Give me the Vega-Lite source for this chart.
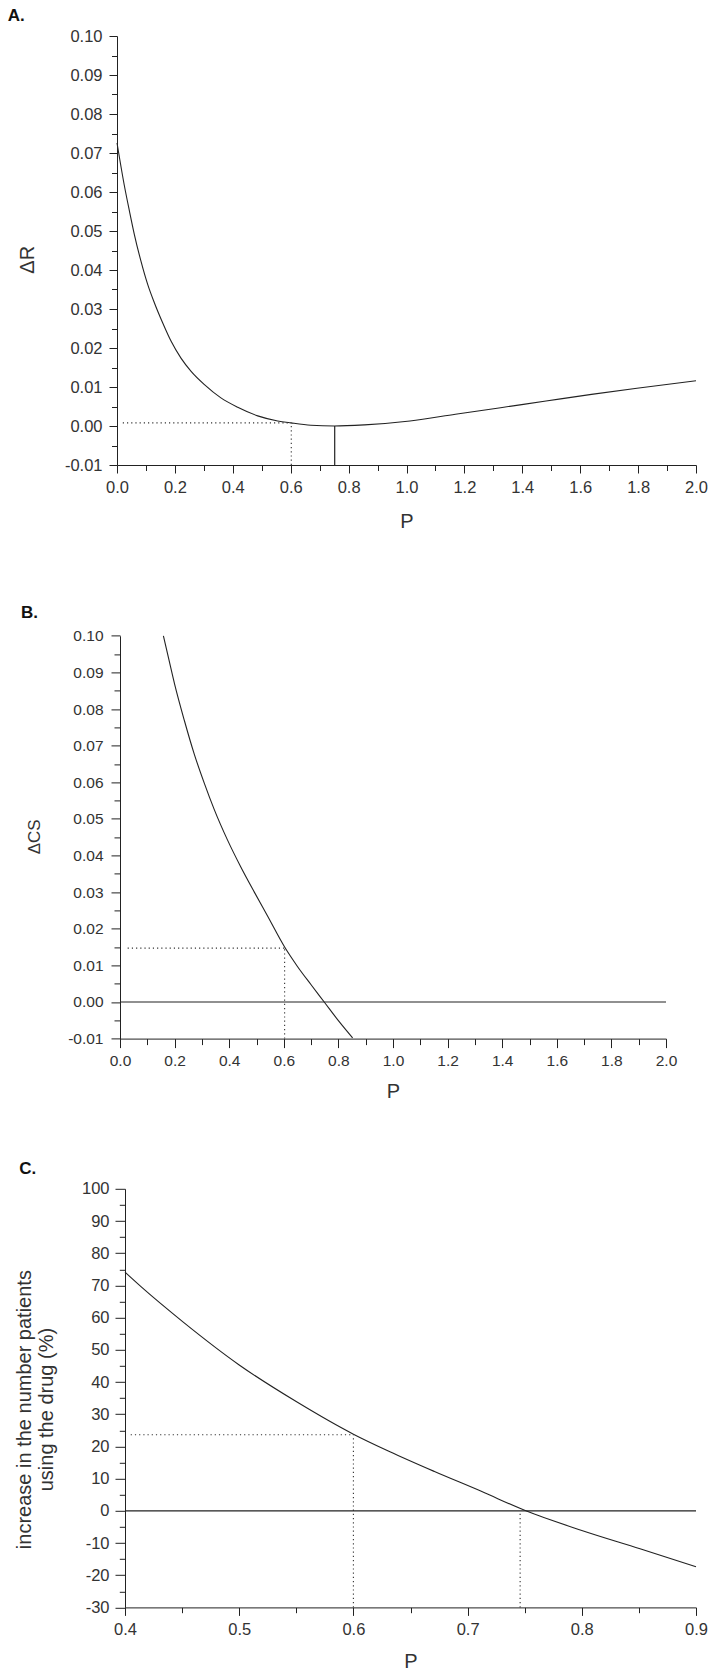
{
  "$schema": "https://vega.github.io/schema/vega-lite/v6.json",
  "padding": {"left": 7, "top": 7, "right": 5, "bottom": 2},
  "bounds": "flush",
  "spacing": 149.4,
  "config": {
    "font": "Liberation Sans",
    "view": {"stroke": null},
    "axis": {"grid": false, "domainColor": "#222", "tickColor": "#222", "labelColor": "#333", "titleColor": "#333", "domainWidth": 1, "tickWidth": 1, "labelFont": "Liberation Sans", "titleFont": "Liberation Sans", "titleFontWeight": "normal", "labelFlush": false, "labelOverlap": false}
  },
  "vconcat": [
    {
      "width": 579,
      "height": 429,
      "title": {"text": "A.", "anchor": "start", "frame": "group", "dx": -109.3, "fontSize": 17, "fontWeight": "bold", "color": "#111", "baseline": "alphabetic", "offset": -10.3},
      "resolve": {"axis": {"x": "independent", "y": "independent"}},
      "layer": [
        {
          "data": {"values": [
            {"P": 0, "deltaR": 0.0726}, {"P": 0.025, "deltaR": 0.0618}, {"P": 0.043, "deltaR": 0.0551}, {"P": 0.06, "deltaR": 0.0491},
            {"P": 0.083, "deltaR": 0.0422}, {"P": 0.106, "deltaR": 0.0363}, {"P": 0.129, "deltaR": 0.0316}, {"P": 0.158, "deltaR": 0.0264},
            {"P": 0.187, "deltaR": 0.0217}, {"P": 0.221, "deltaR": 0.0174}, {"P": 0.256, "deltaR": 0.014}, {"P": 0.302, "deltaR": 0.0106},
            {"P": 0.359, "deltaR": 0.0072}, {"P": 0.417, "deltaR": 0.0048}, {"P": 0.486, "deltaR": 0.0026}, {"P": 0.555, "deltaR": 0.0013},
            {"P": 0.601, "deltaR": 0.0008}, {"P": 0.67, "deltaR": 0.0002}, {"P": 0.75, "deltaR": 0.0}, {"P": 0.855, "deltaR": 0.0003},
            {"P": 1.012, "deltaR": 0.0013}, {"P": 1.169, "deltaR": 0.003}, {"P": 1.325, "deltaR": 0.0047}, {"P": 1.482, "deltaR": 0.0064},
            {"P": 1.639, "deltaR": 0.0081}, {"P": 1.796, "deltaR": 0.0097}, {"P": 2.0, "deltaR": 0.0116}
          ]},
          "mark": {"type": "line", "color": "#222", "strokeWidth": 1.1, "interpolate": "monotone"},
          "encoding": {
            "x": {"field": "P", "type": "quantitative", "scale": {"domain": [0, 2], "nice": false, "zero": false},
              "axis": {"orient": "bottom", "values": [0, 0.2, 0.4, 0.6, 0.8, 1, 1.2, 1.4, 1.6, 1.8, 2], "format": ".1f", "tickSize": 8, "labelPadding": 6, "labelFontSize": 16.5,
                "title": "P", "titleFontSize": 20, "titleBaseline": "alphabetic", "titleAlign": "center", "titleX": 289.5, "titleY": 62.5}},
            "y": {"field": "deltaR", "type": "quantitative", "scale": {"domain": [-0.01, 0.1], "nice": false, "zero": false},
              "axis": {"orient": "left", "values": [-0.01, 0, 0.01, 0.02, 0.03, 0.04, 0.05, 0.06, 0.07, 0.08, 0.09, 0.1],
                "labelExpr": "(datum.value < 0 ? '-' : '') + format(abs(datum.value), '.2f')", "tickSize": 8, "labelPadding": 7, "labelFontSize": 16.5,
                "title": "ΔR", "titleFontSize": 20, "titleAngle": 270, "titleAlign": "center", "titleBaseline": "alphabetic", "titleX": -84, "titleY": 223.3}}
          }
        },
        {
          "data": {"values": [
            {"P": 0.02, "P_end": 0.602, "value": 0.0008, "value_end": 0.0008},
            {"P": 0.602, "P_end": 0.602, "value": -0.01, "value_end": 0.0008}
          ]},
          "mark": {"type": "rule", "color": "#333", "strokeWidth": 1.1, "strokeDash": [1.2, 3]},
          "encoding": {
            "x": {"field": "P", "type": "quantitative", "scale": {"domain": [0, 2], "nice": false, "zero": false},
              "axis": {"orient": "bottom", "values": [0.1, 0.3, 0.5, 0.7, 0.9, 1.1, 1.3, 1.5, 1.7, 1.9], "tickSize": 5.5, "labels": false, "domain": false, "title": null}},
            "x2": {"field": "P_end"},
            "y": {"field": "value", "type": "quantitative", "scale": {"domain": [-0.01, 0.1], "nice": false, "zero": false},
              "axis": {"orient": "left", "values": [-0.005, 0.005, 0.015, 0.025, 0.035, 0.045, 0.055, 0.065, 0.075, 0.085, 0.095], "tickSize": 5.5, "labels": false, "domain": false, "title": null}},
            "y2": {"field": "value_end"}
          }
        },
        {
          "data": {"values": [
            {"P": 0.752, "P_end": 0.752, "value": -0.01, "value_end": 0.0}
          ]},
          "mark": {"type": "rule", "color": "#222", "strokeWidth": 1.2},
          "encoding": {
            "x": {"field": "P", "type": "quantitative", "scale": {"domain": [0, 2], "nice": false, "zero": false}, "axis": null},
            "x2": {"field": "P_end"},
            "y": {"field": "value", "type": "quantitative", "scale": {"domain": [-0.01, 0.1], "nice": false, "zero": false}, "axis": null},
            "y2": {"field": "value_end"}
          }
        }
      ]
    },
    {
      "width": 549,
      "height": 424.2,
      "title": {"text": "B.", "anchor": "start", "frame": "group", "dx": -96, "fontSize": 17, "fontWeight": "bold", "color": "#111", "baseline": "alphabetic", "offset": -20.6},
      "resolve": {"axis": {"x": "independent", "y": "independent"}},
      "layer": [
        {
          "data": {"values": [
            {"P": 0.159, "deltaCS": 0.1}, {"P": 0.18, "deltaCS": 0.0932}, {"P": 0.2, "deltaCS": 0.0868}, {"P": 0.236, "deltaCS": 0.0768},
            {"P": 0.272, "deltaCS": 0.0677}, {"P": 0.309, "deltaCS": 0.0597}, {"P": 0.345, "deltaCS": 0.0526}, {"P": 0.394, "deltaCS": 0.0442},
            {"P": 0.443, "deltaCS": 0.0368}, {"P": 0.492, "deltaCS": 0.03}, {"P": 0.541, "deltaCS": 0.0234}, {"P": 0.603, "deltaCS": 0.015},
            {"P": 0.65, "deltaCS": 0.0097}, {"P": 0.7, "deltaCS": 0.0047}, {"P": 0.748, "deltaCS": 0.0}, {"P": 0.8, "deltaCS": -0.0051},
            {"P": 0.852, "deltaCS": -0.0098}
          ]},
          "mark": {"type": "line", "color": "#222", "strokeWidth": 1.1, "interpolate": "monotone"},
          "encoding": {
            "x": {"field": "P", "type": "quantitative", "scale": {"domain": [0, 2], "nice": false, "zero": false, "range": [3, 549]},
              "axis": {"orient": "bottom", "values": [0, 0.2, 0.4, 0.6, 0.8, 1, 1.2, 1.4, 1.6, 1.8, 2], "format": ".1f", "tickSize": 9, "labelPadding": 6, "labelFontSize": 15.5,
                "title": "P", "titleFontSize": 20, "titleBaseline": "alphabetic", "titleAlign": "center", "titleX": 276, "titleY": 58.9}},
            "y": {"field": "deltaCS", "type": "quantitative", "scale": {"domain": [-0.01, 0.1], "nice": false, "zero": false, "range": [424.2, 21.4]},
              "axis": {"orient": "left", "offset": -3, "values": [-0.01, 0, 0.01, 0.02, 0.03, 0.04, 0.05, 0.06, 0.07, 0.08, 0.09, 0.1],
                "labelExpr": "(datum.value < 0 ? '-' : '') + format(abs(datum.value), '.2f')", "tickSize": 9, "labelPadding": 8, "labelFontSize": 15.5,
                "title": "ΔCS", "titleFontSize": 17, "titleAngle": 270, "titleAlign": "center", "titleBaseline": "alphabetic", "titleX": -80.7, "titleY": 221.9}}
          }
        },
        {
          "data": {"values": [
            {"P": 0.028, "P_end": 0.603, "value": 0.0147, "value_end": 0.0147},
            {"P": 0.603, "P_end": 0.603, "value": -0.01, "value_end": 0.0147}
          ]},
          "mark": {"type": "rule", "color": "#333", "strokeWidth": 1.1, "strokeDash": [1.2, 3]},
          "encoding": {
            "x": {"field": "P", "type": "quantitative", "scale": {"domain": [0, 2], "nice": false, "zero": false, "range": [3, 549]},
              "axis": {"orient": "bottom", "values": [0.1, 0.3, 0.5, 0.7, 0.9, 1.1, 1.3, 1.5, 1.7, 1.9], "tickSize": 6, "labels": false, "domain": false, "title": null}},
            "x2": {"field": "P_end"},
            "y": {"field": "value", "type": "quantitative", "scale": {"domain": [-0.01, 0.1], "nice": false, "zero": false, "range": [424.2, 21.4]},
              "axis": {"orient": "left", "offset": -3, "values": [-0.005, 0.005, 0.015, 0.025, 0.035, 0.045, 0.055, 0.065, 0.075, 0.085, 0.095], "tickSize": 6, "labels": false, "domain": false, "title": null}},
            "y2": {"field": "value_end"}
          }
        },
        {
          "data": {"values": [
            {"P": 0, "P_end": 2, "value": 0, "value_end": 0}
          ]},
          "mark": {"type": "rule", "color": "#222", "strokeWidth": 1.2},
          "encoding": {
            "x": {"field": "P", "type": "quantitative", "scale": {"domain": [0, 2], "nice": false, "zero": false, "range": [3, 549]}, "axis": null},
            "x2": {"field": "P_end"},
            "y": {"field": "value", "type": "quantitative", "scale": {"domain": [-0.01, 0.1], "nice": false, "zero": false, "range": [424.2, 21.4]}, "axis": null},
            "y2": {"field": "value_end"}
          }
        }
      ]
    },
    {
      "width": 579,
      "height": 418.6,
      "title": {"text": "C.", "anchor": "start", "frame": "group", "dx": -97.7, "fontSize": 17, "fontWeight": "bold", "color": "#111", "baseline": "alphabetic", "offset": -10},
      "resolve": {"axis": {"x": "independent", "y": "independent"}},
      "layer": [
        {
          "data": {"values": [
            {"P": 0.4, "increase": 74.1}, {"P": 0.414, "increase": 69.6}, {"P": 0.451, "increase": 58.6}, {"P": 0.5, "increase": 45.3},
            {"P": 0.551, "increase": 33.7}, {"P": 0.6, "increase": 23.8}, {"P": 0.631, "increase": 18.5}, {"P": 0.671, "increase": 12.2},
            {"P": 0.711, "increase": 6.2}, {"P": 0.751, "increase": 0.0}, {"P": 0.8, "increase": -6.1}, {"P": 0.851, "increase": -11.8},
            {"P": 0.9, "increase": -17.4}
          ]},
          "mark": {"type": "line", "color": "#222", "strokeWidth": 1.1, "interpolate": "monotone"},
          "encoding": {
            "x": {"field": "P", "type": "quantitative", "scale": {"domain": [0.4, 0.9], "nice": false, "zero": false, "range": [8, 579]},
              "axis": {"orient": "bottom", "values": [0.4, 0.5, 0.6, 0.7, 0.8, 0.9], "format": ".1f", "tickSize": 8, "labelPadding": 6.4, "labelFontSize": 16.5,
                "title": "P", "titleFontSize": 20, "titleBaseline": "alphabetic", "titleAlign": "center", "titleX": 293.5, "titleY": 59.9}},
            "y": {"field": "increase", "type": "quantitative", "scale": {"domain": [-30, 100], "nice": false, "zero": false},
              "axis": {"orient": "left", "offset": -8, "values": [-30, -20, -10, 0, 10, 20, 30, 40, 50, 60, 70, 80, 90, 100],
                "labelExpr": "(datum.value < 0 ? '-' : '') + format(abs(datum.value), 'd')", "tickSize": 10, "labelPadding": 6, "labelFontSize": 16.5,
                "title": ["increase in the number patients", "using the drug (%)"], "titleFontSize": 20, "titleLineHeight": 22, "titleAngle": 270, "titleAlign": "center", "titleBaseline": "alphabetic", "titleX": -95, "titleY": 220.3}}
          }
        },
        {
          "data": {"values": [
            {"P": 0.405, "P_end": 0.6, "value": 23.6, "value_end": 23.6},
            {"P": 0.6, "P_end": 0.6, "value": -30, "value_end": 23.6},
            {"P": 0.746, "P_end": 0.746, "value": -30, "value_end": 0}
          ]},
          "mark": {"type": "rule", "color": "#333", "strokeWidth": 1.1, "strokeDash": [1.2, 3]},
          "encoding": {
            "x": {"field": "P", "type": "quantitative", "scale": {"domain": [0.4, 0.9], "nice": false, "zero": false, "range": [8, 579]},
              "axis": {"orient": "bottom", "values": [0.45, 0.55, 0.65, 0.75, 0.85], "tickSize": 5.3, "labels": false, "domain": false, "title": null}},
            "x2": {"field": "P_end"},
            "y": {"field": "value", "type": "quantitative", "scale": {"domain": [-30, 100], "nice": false, "zero": false},
              "axis": {"orient": "left", "offset": -8, "values": [-25, -15, -5, 5, 15, 25, 35, 45, 55, 65, 75, 85, 95], "tickSize": 5.7, "labels": false, "domain": false, "title": null}},
            "y2": {"field": "value_end"}
          }
        },
        {
          "data": {"values": [
            {"P": 0.4, "P_end": 0.9, "value": 0, "value_end": 0}
          ]},
          "mark": {"type": "rule", "color": "#222", "strokeWidth": 1.2},
          "encoding": {
            "x": {"field": "P", "type": "quantitative", "scale": {"domain": [0.4, 0.9], "nice": false, "zero": false, "range": [8, 579]}, "axis": null},
            "x2": {"field": "P_end"},
            "y": {"field": "value", "type": "quantitative", "scale": {"domain": [-30, 100], "nice": false, "zero": false}, "axis": null},
            "y2": {"field": "value_end"}
          }
        }
      ]
    }
  ]
}
